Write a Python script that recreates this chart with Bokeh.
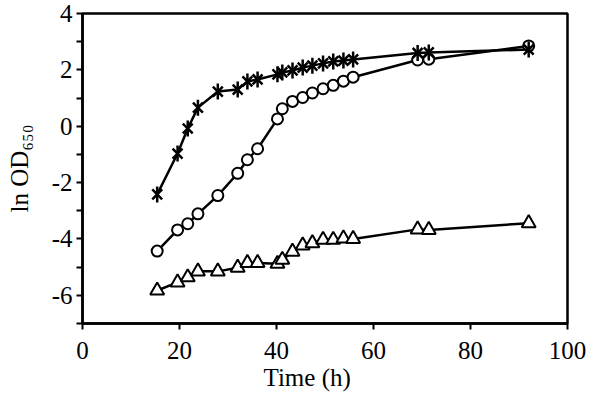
from math import pi
from bokeh.plotting import figure
from bokeh.models import Range1d, FixedTicker, Title, PrintfTickFormatter
from bokeh.embed import file_html
from bokeh.resources import INLINE

# ---- data ----
time_h = [15.4, 19.6, 21.7, 23.8, 27.9, 32.0, 34.0, 36.1, 40.2, 41.2,
          43.3, 45.4, 47.4, 49.6, 51.7, 53.8, 55.8, 69.1, 71.4, 92.0]
star_ln_od = [-2.42, -0.97, -0.08, 0.66, 1.23, 1.30, 1.59, 1.66, 1.84, 1.91,
              1.98, 2.08, 2.15, 2.23, 2.30, 2.33, 2.37, 2.60, 2.62, 2.72]
circle_ln_od = [-4.43, -3.68, -3.46, -3.11, -2.46, -1.67, -1.19, -0.80, 0.26, 0.62,
                0.88, 1.02, 1.18, 1.33, 1.45, 1.60, 1.74, 2.35, 2.38, 2.85]
triangle_ln_od = [-5.83, -5.54, -5.36, -5.15, -5.15, -5.02, -4.85, -4.85, -4.88, -4.74,
                  -4.45, -4.23, -4.15, -4.03, -4.03, -3.98, -4.00, -3.66, -3.68, -3.44]
x_ticks = [0, 20, 40, 60, 80, 100]
y_ticks = [-6, -4, -2, 0, 2, 4]
y_minor_ticks = [-7, -5, -3, -1, 1, 3]
x_title = "Time (h)"
y_title = "ln OD\u2086\u2085\u2080"

FONT = "Liberation Serif"

p = figure(width=600, height=402, output_backend="svg", toolbar_location=None,
           x_range=Range1d(0, 100), y_range=Range1d(-7, 4),
           min_border_left=82, min_border_right=33, min_border_top=13, min_border_bottom=79)
p.background_fill_color = "white"
p.border_fill_color = "white"
p.outline_line_color = "black"
p.outline_line_width = 2.5
p.outline_line_alpha = 1.0
p.xgrid.visible = False
p.ygrid.visible = False

p.xaxis.ticker = FixedTicker(ticks=x_ticks)
p.yaxis.ticker = FixedTicker(ticks=y_ticks, minor_ticks=y_minor_ticks)
for ax in (p.xaxis[0], p.yaxis[0]):
    ax.formatter = PrintfTickFormatter(format="%d")
    ax.axis_line_color = "black"
    ax.axis_line_width = 2.5
    ax.major_tick_line_color = "black"
    ax.major_tick_line_width = 2
    ax.major_tick_out = 6
    ax.major_tick_in = 0
    ax.major_label_text_font = FONT
    ax.major_label_text_font_size = "25px"
    ax.major_label_text_color = "#000000"
p.xaxis.minor_tick_line_color = None
p.yaxis.minor_tick_line_color = "black"
p.yaxis.minor_tick_line_width = 2
p.yaxis.minor_tick_out = 6
p.yaxis.minor_tick_in = 0
p.xaxis.major_label_standoff = 12
p.yaxis.major_label_standoff = 4

p.yaxis.axis_label = y_title
p.yaxis.axis_label_text_font = FONT
p.yaxis.axis_label_text_font_size = "25px"
p.yaxis.axis_label_text_font_style = "normal"
p.yaxis.axis_label_text_color = "#000000"
p.yaxis.axis_label_standoff = 16

# triangles
p.line(time_h, triangle_ln_od, line_color="black", line_width=2.5)
p.scatter(time_h, triangle_ln_od, marker="triangle", size=14, fill_color="white",
          line_color="black", line_width=2)
# circles
p.line(time_h, circle_ln_od, line_color="black", line_width=2.5)
p.scatter(time_h, circle_ln_od, marker="circle", size=11, fill_color="white",
          line_color="black", line_width=2)
# stars (x + vertical bar)
p.line(time_h, star_ln_od, line_color="black", line_width=2.5)
p.scatter(time_h, star_ln_od, marker="x", size=14, line_color="black", line_width=2.5)
p.scatter(time_h, star_ln_od, marker="dash", angle=pi / 2, size=16, line_color="black",
          line_width=2.5)

# x axis title (slightly left of centre, as in the reference)
p.add_layout(Title(text=x_title, align="left", offset=181, standoff=0,
                   text_font=FONT, text_font_size="25px", text_font_style="normal",
                   text_color="#000000"), "below")

open("out.html", "w").write(file_html(p, INLINE))
